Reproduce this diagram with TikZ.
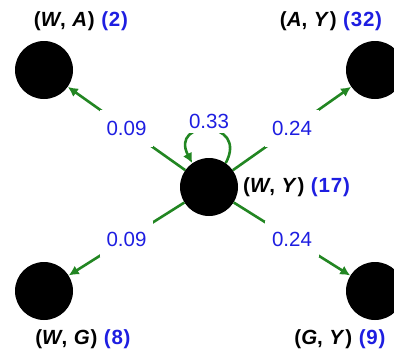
\documentclass[tikz,border=0pt]{standalone}
\usepackage{fontspec}
\setmainfont{Liberation Sans}
\usetikzlibrary{arrows.meta}
\definecolor{egreen}{RGB}{34,134,34}
\definecolor{eblue}{RGB}{30,30,225}
\tikzset{
  state/.style={circle,fill=black,draw=none,minimum size=58pt,inner sep=0pt},
  edgeline/.style={draw=egreen,line width=2.6pt,-{Latex[length=10pt,width=10pt]}},
  prob/.style={fill=white,text=eblue,font=\fontsize{20.5}{22}\selectfont,inner xsep=7pt,inner ysep=11pt},
  tag/.style={font=\fontsize{20.5}{22}\selectfont\bfseries\addfontfeature{LetterSpace=4},inner sep=0pt}
}
\newcommand{\cnt}[1]{\textcolor{eblue}{#1}}
\begin{document}
\begin{tikzpicture}[x=1pt,y=-1pt]
\useasboundingbox (0,0) rectangle (394,351);
\node[state] (c) at (209,187) {};
\node[state] (wa) at (44,70) {};
\node[state] (ay) at (375,70) {};
\node[state] (wg) at (44,291) {};
\node[state] (gy) at (375,291) {};
\draw[edgeline] (c) -- node[prob] {0.09} (wa);
\draw[edgeline] (c) -- node[prob] {0.24} (ay);
\draw[edgeline] (c) -- node[prob] {0.09} (wg);
\draw[edgeline] (c) -- node[prob] {0.24} (gy);
\draw[edgeline] (c.55) .. controls +(-62:50) and +(-118:50) .. node[prob,pos=0.5,yshift=9pt,inner ysep=5pt] {0.33} (c.125);
\node[tag] (lwa) at (81,21) {(\textit{W}, \textit{A}) \cnt{(2)}};
\node[tag] (lay) at (331,21) {(\textit{A}, \textit{Y}) \cnt{(32)}};
\node[tag,anchor=west] (lwy) at (243,187) {(\textit{W}, \textit{Y}) \cnt{(17)}};
\node[tag] (lwg) at (83,339) {(\textit{W}, \textit{G}) \cnt{(8)}};
\node[tag] (lgy) at (340,339) {(\textit{G}, \textit{Y}) \cnt{(9)}};
\end{tikzpicture}
\end{document}
